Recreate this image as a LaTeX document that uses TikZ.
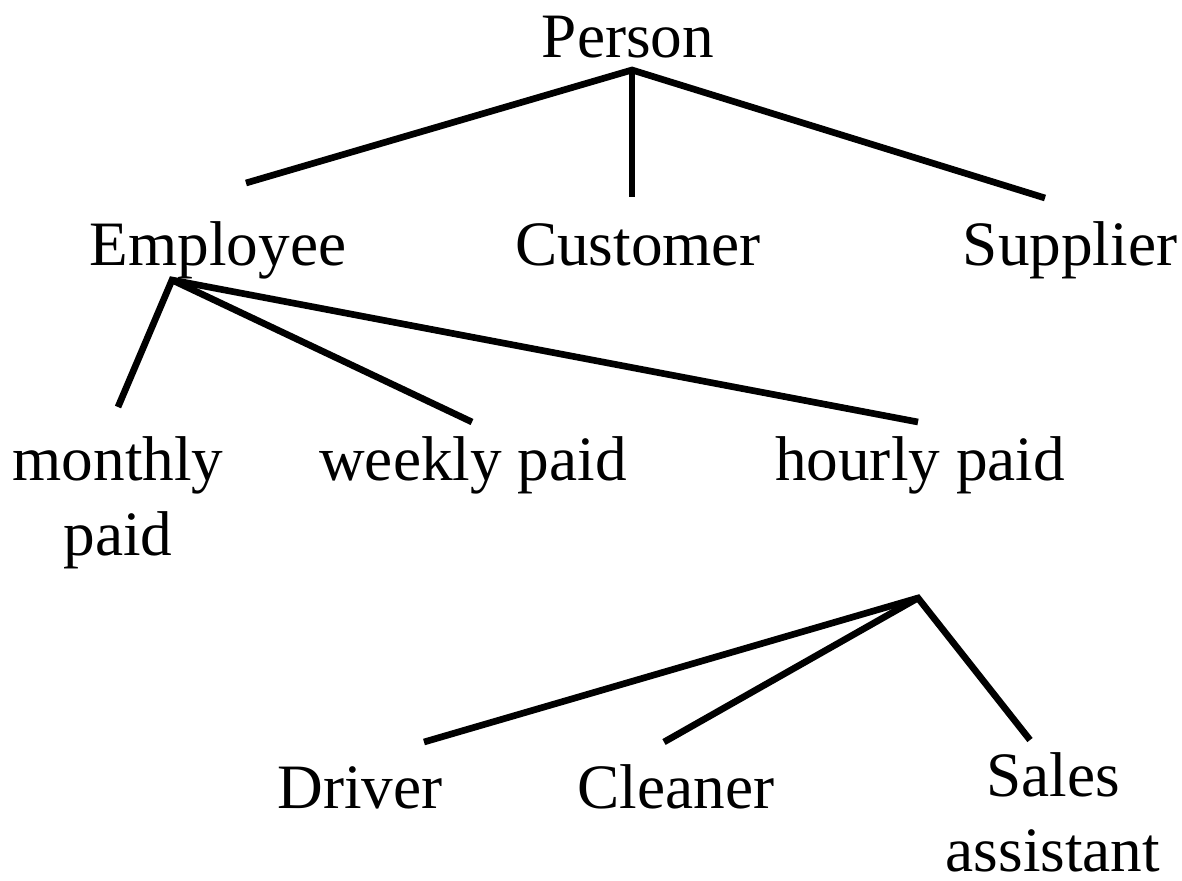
\documentclass[tikz,border=0pt]{standalone}
\usepackage{fontspec}
\setmainfont{Liberation Serif}
\begin{document}
\begin{tikzpicture}[x=0.02cm,y=-0.02cm,
  label/.style={anchor=base,inner sep=0pt,font=\fontsize{36}{42.5}\selectfont,align=center},
  branch/.style={line width=3.8pt}]
\useasboundingbox (0,0) rectangle (1182,880);
% class names (two-line labels are placed by their last baseline)
\node[label] (person)   at (628,57)  {Person};
\node[label] (employee) at (218,265) {Employee};
\node[label] (customer) at (638,265) {Customer};
\node[label] (supplier) at (1070,265) {Supplier};
\node[label] (monthly)  at (118,555) {monthly\\paid};
\node[label] (weekly)   at (473,480) {weekly paid};
\node[label] (hourly)   at (920,480) {hourly paid};
\node[label] (driver)   at (360,808) {Driver};
\node[label] (cleaner)  at (676,808) {Cleaner};
\node[label] (sales)    at (1053,871) {Sales\\assistant};
% branch points and line ends
\coordinate (personHub)   at (632,70);
\coordinate (employeeTop) at (246,183);
\coordinate (customerTop) at (632,197);
\coordinate (supplierTop) at (1045,198);
\coordinate (employeeHub) at (172,280);
\coordinate (monthlyTop)  at (118,407);
\coordinate (weeklyTop)   at (472,422);
\coordinate (hourlyTop)   at (918,422);
\coordinate (hourlyHub)   at (918,598);
\coordinate (driverTop)   at (424,742);
\coordinate (cleanerTop)  at (664,742);
\coordinate (salesTop)    at (1030,740);
% hierarchy lines
\draw[branch] (employeeTop) -- (personHub) -- (supplierTop);
\draw[branch] (personHub) -- (customerTop);
\draw[branch] (monthlyTop) -- (employeeHub) -- (hourlyTop);
\draw[branch] (employeeHub) -- (weeklyTop);
\draw[branch] (driverTop) -- (hourlyHub) -- (salesTop);
\draw[branch] (hourlyHub) -- (cleanerTop);
\end{tikzpicture}
\end{document}
